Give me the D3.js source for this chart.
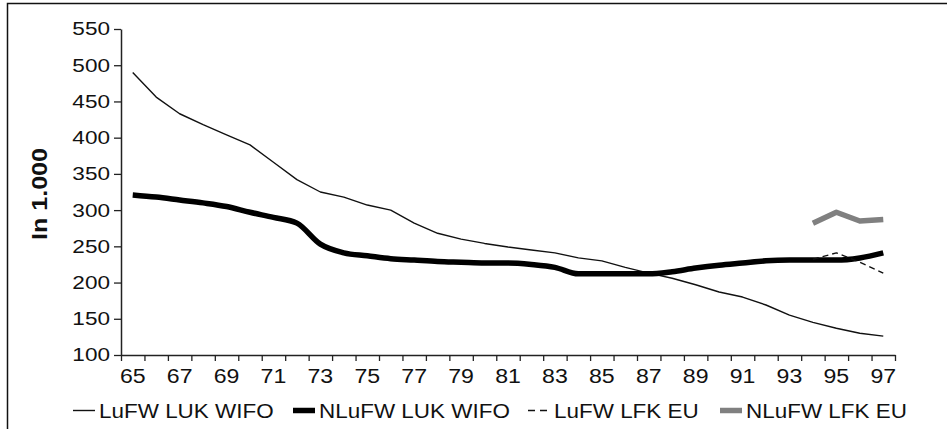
<!DOCTYPE html>
<html>
<head>
<meta charset="utf-8">
<script src="https://cdn.jsdelivr.net/npm/d3@7"></script>
<style>
  body { margin: 0; background: #fff; }
  svg { display: block; }
  text { font-family: "Liberation Sans", Arial, sans-serif; fill: #111; }
</style>
</head>
<body>
<svg id="chart" width="947" height="429"></svg>
<script>
var years = [65, 66, 67, 68, 69, 70, 71, 72, 73, 74, 75, 76, 77, 78, 79, 80, 81,
             82, 83, 84, 85, 86, 87, 88, 89, 90, 91, 92, 93, 94, 95, 96, 97];
var labelYears = [65, 67, 69, 71, 73, 75, 77, 79, 81, 83, 85, 87, 89, 91, 93, 95, 97];
var yTicks = [100, 150, 200, 250, 300, 350, 400, 450, 500, 550];

var lufwLuk = [490, 456, 433, 418, 404, 390, 366, 342, 325, 318, 307, 300, 282, 268, 260, 254, 249,
               245, 241, 234, 230, 221, 213, 206, 197, 187, 180, 169, 155, 145, 137, 130, 126];
var nlufwLuk = [321, 318, 314, 310, 305, 297, 290, 282, 253, 241, 237, 233, 231, 229, 228, 227, 227,
                225, 221, 212, 212, 212, 212, 215, 220, 224, 227, 230, 231, 231, 231, 234, 241];
var lfkYears = [94, 95, 96, 97];
var lufwLfk = [232, 241, 228, 213];
var nlufwLfk = [282, 297, 285, 287];

var seriesNames = ["LuFW LUK WIFO", "NLuFW LUK WIFO", "LuFW LFK EU", "NLuFW LFK EU"];

(function() {
    var svg = d3.select("#chart");

    // frame (top and left edge only)
    svg.append("path")
        .attr("d", "M7.5,429V3.5H947")
        .attr("fill", "none")
        .attr("stroke", "#111")
        .attr("stroke-width", 1.5);

    var plotLeft = 121, plotRight = 895, plotTop = 29, plotBottom = 355;

    var x = d3.scaleBand()
        .domain(years)
        .range([plotLeft, plotRight])
        .padding(0);

    var xEdge = d3.scaleLinear()
        .domain([0, years.length])
        .range([plotLeft, plotRight]);

    var y = d3.scaleLinear()
        .domain([100, 550])
        .range([plotBottom, plotTop]);

    // y axis
    var yAxis = svg.append("g")
        .attr("transform", "translate(" + [plotLeft, 0] + ")")
        .call(d3.axisLeft(y).tickValues(yTicks).tickSize(7).tickSizeOuter(0));
    yAxis.select(".domain").attr("stroke", "#222").attr("stroke-width", 1.5);
    yAxis.selectAll(".tick line").attr("stroke", "#222").attr("stroke-width", 1.3);
    yAxis.selectAll(".tick text")
        .attr("x", -11 / 1.22)
        .attr("transform", "scale(1.22,1)")
        .style("font-size", "18.5px")
        .style("font-family", "Liberation Sans, Arial, sans-serif")
        .attr("fill", "#111");

    // x axis: tick marks on category boundaries
    var xAxis = svg.append("g")
        .attr("transform", "translate(" + [0, plotBottom] + ")")
        .call(d3.axisBottom(xEdge).tickValues(d3.range(0, years.length + 1))
            .tickSize(6).tickSizeOuter(0).tickFormat(""));
    xAxis.select(".domain").attr("stroke", "#222").attr("stroke-width", 1.5);
    xAxis.selectAll(".tick line").attr("stroke", "#222").attr("stroke-width", 1.3);

    // x labels centred in categories
    var xLabels = svg.append("g")
        .attr("transform", "translate(" + [0, plotBottom] + ")")
        .call(d3.axisBottom(x).tickValues(labelYears).tickSize(0).tickPadding(13));
    xLabels.select(".domain").remove();
    xLabels.selectAll(".tick text")
        .attr("transform", "scale(1.1,1)")
        .style("font-size", "21px")
        .style("font-family", "Liberation Sans, Arial, sans-serif")
        .attr("fill", "#111");

    // y title
    svg.append("text")
        .attr("transform", "translate(47,194) rotate(-90) scale(1.14,1)")
        .attr("text-anchor", "middle")
        .style("font-size", "22px")
        .style("font-weight", "bold")
        .text("In 1.000");

    var cx = function(yr) { return x(yr) + x.bandwidth() / 2; };

    var styles = [
        { stroke: "#111", width: 1.4, dash: null, curve: d3.curveLinear },
        { stroke: "#000", width: 5.5, dash: null, curve: d3.curveMonotoneX },
        { stroke: "#111", width: 1.4, dash: "6,4", curve: d3.curveLinear },
        { stroke: "#808080", width: 5.5, dash: null, curve: d3.curveLinear }
    ];

    var series = [
        d3.zip(years, lufwLuk),
        d3.zip(years, nlufwLuk),
        d3.zip(lfkYears, lufwLfk),
        d3.zip(lfkYears, nlufwLfk)
    ];

    series.forEach(function(s, i) {
        var line = d3.line()
            .x(function(d) { return cx(d[0]); })
            .y(function(d) { return y(d[1]); })
            .curve(styles[i].curve);

        svg.append("path")
            .datum(s)
            .attr("fill", "none")
            .attr("stroke", styles[i].stroke)
            .attr("stroke-width", styles[i].width)
            .attr("stroke-dasharray", styles[i].dash)
            .attr("stroke-linejoin", "round")
            .attr("d", line);
    });

    // legend
    var legendX = [73, 293, 528, 720];
    seriesNames.forEach(function(name, i) {
        var g = svg.append("g").attr("transform", "translate(" + [legendX[i], 0] + ")");
        g.append("line")
            .attr("x1", 0).attr("x2", 22)
            .attr("y1", 410.5).attr("y2", 410.5)
            .attr("stroke", styles[i].stroke)
            .attr("stroke-width", styles[i].width)
            .attr("stroke-dasharray", styles[i].dash ? "7,5" : null);
        g.append("text")
            .attr("transform", "translate(26,418) scale(1.07,1)")
            .style("font-size", "21px")
            .text(name);
    });
})();
</script>
</body>
</html>
